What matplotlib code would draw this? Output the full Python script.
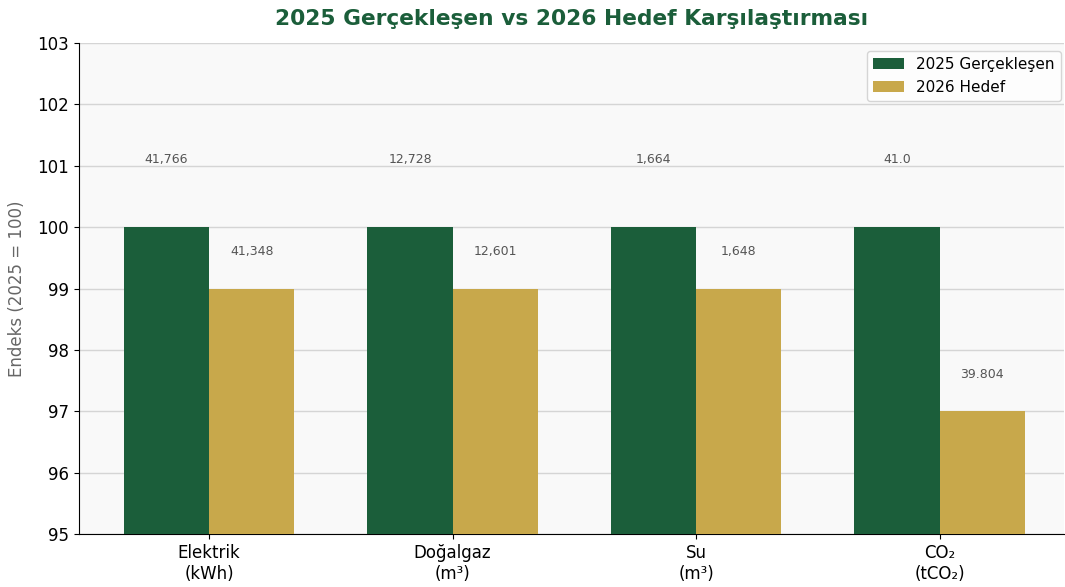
import numpy as np
import matplotlib.pyplot as plt

# data
categories = ['Elektrik\n(kWh)', 'Doğalgaz\n(m³)', 'Su\n(m³)', 'CO₂\n(tCO₂)']
index_2025 = [100, 100, 100, 100]
index_2026 = [99, 99, 99, 97]
labels_2025 = ['41,766', '12,728', '1,664', '41.0']
labels_2026 = ['41,348', '12,601', '1,648', '39.804']

green = '#1b5e3a'
gold = '#c8a84b'

fig = plt.figure(figsize=(10.65, 5.87), dpi=100)
ax = fig.add_axes([0.074, 0.0903, 0.925, 0.8364])
ax.set_facecolor('#f9f9f9')

x = np.arange(len(categories))
w = 0.35
ax.bar(x - w / 2, index_2025, w, color=green, label='2025 Gerçekleşen', zorder=3)
ax.bar(x + w / 2, index_2026, w, color=gold, label='2026 Hedef', zorder=3)

for i in range(len(categories)):
    ax.text(x[i] - w / 2, index_2025[i] + 1.0, labels_2025[i], ha='center', va='bottom',
            fontsize=9, color='#555555')
    ax.text(x[i] + w / 2, index_2026[i] + 0.5, labels_2026[i], ha='center', va='bottom',
            fontsize=9, color='#555555')

ax.set_ylim(95, 103)
ax.set_xlim(-0.535, 3.51)
ax.set_xticks(x)
ax.set_xticklabels(categories, fontsize=12)
ax.tick_params(axis='y', labelsize=12)
ax.set_ylabel('Endeks (2025 = 100)', fontsize=12, color='#666666', labelpad=8)
ax.set_title('2025 Gerçekleşen vs 2026 Hedef Karşılaştırması', fontsize=15.7,
             fontweight='bold', color=green, pad=13)
ax.yaxis.grid(True, color='#d5d5d5', linewidth=1, zorder=0)
ax.spines['top'].set_visible(False)
ax.spines['right'].set_visible(False)
ax.legend(loc='upper right', fontsize=11, borderaxespad=0.2,
          bbox_to_anchor=(1.0, 0.99))

fig.savefig('out.png', dpi=100)
